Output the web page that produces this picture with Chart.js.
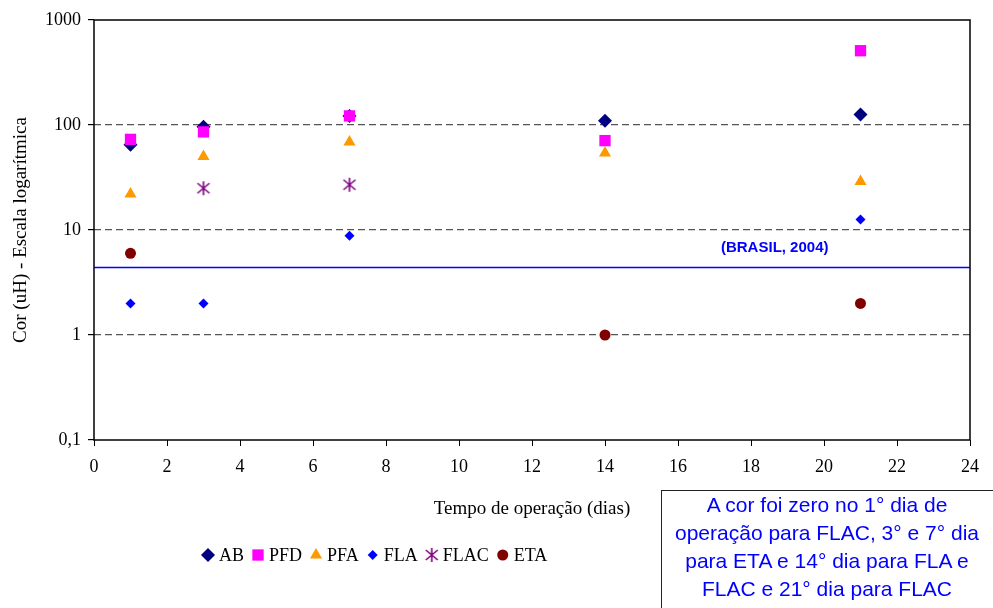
<!DOCTYPE html>
<html>
<head>
<meta charset="utf-8">
<script src="https://cdn.jsdelivr.net/npm/chart.js@4/dist/chart.umd.min.js"></script>
<style>
  html, body { margin: 0; padding: 0; background: #fff; }
  #wrap { position: relative; width: 993px; height: 608px; overflow: hidden; }
  #note {
    position: absolute; left: 661px; top: 490px; width: 340px; height: 130px;
    box-sizing: border-box; border: 1px solid #222; padding: 0 8px 0 0;
    font-family: "Liberation Sans", Arial, sans-serif; font-size: 21px; line-height: 28px;
    color: #0000ff; text-align: center; white-space: nowrap;
  }
</style>
</head>
<body>
<div id="wrap">
  <canvas id="chart" width="993" height="608"></canvas>
  <div id="note">A cor foi zero no 1° dia de<br>operação para FLAC, 3° e 7° dia<br>para ETA e 14° dia para FLA e<br>FLAC e 21° dia para FLAC</div>
</div>
<script>
// dias de operação
const days = [1, 3, 7, 14, 21];

// cor (uH) por unidade
const AB   = [65, 96, 122, 110, 126];
const PFD  = [73, 86, 122, 71, 510];
const PFA  = [22, 50, 69, 54, 29];
const FLA  = [2, 2, 8.8, null, 12.6];
const FLAC = [null, 25, 27, null, null];
const ETA  = [6, null, null, 1, 2];

const brasilLimit = 4.4;
const yTicks = [0.1, 1, 10, 100, 1000];
const xRange = [0, 24];

const serif = "'Liberation Serif', 'Times New Roman', serif";

function pts(vals) {
  return days.map((d, i) => ({ x: d, y: vals[i] })).filter(p => p.y !== null);
}

// asterisco do FLAC
function starImage() {
  const c = document.createElement('canvas');
  c.width = 16; c.height = 16;
  const g = c.getContext('2d');
  g.strokeStyle = '#800080';
  g.lineWidth = 1.6;
  g.beginPath();
  g.moveTo(8, 1); g.lineTo(8, 15);
  g.moveTo(2, 3); g.lineTo(14, 13);
  g.moveTo(14, 3); g.lineTo(2, 13);
  g.stroke();
  return c;
}

const series = [
  { label: 'AB',   data: AB,   color: '#000080', style: 'rectRot',  r: 7 },
  { label: 'PFD',  data: PFD,  color: '#ff00ff', style: 'rect',     r: 8 },
  { label: 'PFA',  data: PFA,  color: '#ff9900', style: 'triangle', r: 7 },
  { label: 'FLA',  data: FLA,  color: '#0000ff', style: 'rectRot',  r: 5 },
  { label: 'FLAC', data: FLAC, color: '#800080', style: starImage(), r: 7 },
  { label: 'ETA',  data: ETA,  color: '#800000', style: 'circle',   r: 5.5 }
];

const datasets = series.map((s, i) => ({
  label: s.label,
  data: pts(s.data),
  pointStyle: s.style,
  pointRadius: s.r,
  pointHoverRadius: s.r,
  backgroundColor: s.color,
  borderColor: s.color,
  borderWidth: 0,
  showLine: false,
  order: series.length - i
}));

datasets.push({
  label: 'BRASIL',
  data: [{ x: xRange[0], y: brasilLimit }, { x: xRange[1], y: brasilLimit }],
  type: 'line',
  borderColor: '#0000ff',
  borderWidth: 1.5,
  pointRadius: 0,
  showLine: true,
  order: 10
});

const framePlugin = {
  id: 'frame',
  beforeDatasetsDraw(chart) {
    const { ctx, chartArea: a } = chart;
    ctx.save();
    ctx.strokeStyle = '#000';
    ctx.lineWidth = 1.5;
    ctx.strokeRect(a.left, a.top, a.right - a.left, a.bottom - a.top);
    ctx.restore();
  },
  afterDatasetsDraw(chart) {
    const { ctx, scales } = chart;
    ctx.save();
    ctx.fillStyle = '#0000ff';
    ctx.font = "bold 15px 'Liberation Sans', Arial, sans-serif";
    ctx.textAlign = 'center';
    ctx.textBaseline = 'middle';
    ctx.fillText('(BRASIL, 2004)', scales.x.getPixelForValue(18.65), scales.y.getPixelForValue(brasilLimit) - 20);
    ctx.restore();
  },
  afterDraw(chart) {
    // legenda
    const ctx = chart.ctx;
    ctx.save();
    ctx.font = '18px ' + serif;
    ctx.textBaseline = 'middle';
    let x = 208;
    const y = 555;
    series.forEach(s => {
      ctx.fillStyle = s.color;
      ctx.strokeStyle = s.color;
      Chart.helpers.drawPoint(ctx, { pointStyle: s.style, radius: s.r, borderWidth: 0, rotation: 0 }, x, y);
      ctx.fillStyle = '#000';
      ctx.fillText(s.label, x + 11, y + 1);
      x += 11 + ctx.measureText(s.label).width + 14;
    });
    ctx.restore();
  }
};

new Chart(document.getElementById('chart'), {
  type: 'scatter',
  data: { datasets },
  options: {
    responsive: false,
    animation: false,
    layout: { padding: { top: 20, right: 23, bottom: 88, left: 0 } },
    plugins: { legend: { display: false }, tooltip: { enabled: false } },
    scales: {
      x: {
        type: 'linear',
        min: xRange[0], max: xRange[1],
        afterFit: s => { s.height = 80; },
        ticks: { stepSize: 2, color: '#000', font: { family: serif, size: 18 }, padding: 10, maxRotation: 0 },
        grid: { drawOnChartArea: false, tickLength: 6, tickColor: '#000' },
        border: { display: false },
        title: { display: true, text: 'Tempo de operação (dias)', color: '#000',
                 font: { family: serif, size: 19 }, padding: { top: 6, bottom: 0 } }
      },
      y: {
        type: 'logarithmic',
        min: 0.1, max: 1000,
        afterFit: s => { s.width = 94; },
        afterBuildTicks: s => { s.ticks = yTicks.map(v => ({ value: v })); },
        ticks: {
          color: '#000', font: { family: serif, size: 18 }, padding: 7,
          callback: v => String(v).replace('.', ',')
        },
        grid: {
          color: ctx => (ctx.tick && (ctx.tick.value === 0.1 || ctx.tick.value === 1000)) ? 'rgba(0,0,0,0)' : '#555',
          lineWidth: 1.2,
          tickLength: 6, tickColor: '#000'
        },
        border: { display: false, dash: [7, 4] },
        title: { display: true, text: 'Cor (uH) - Escala logarítmica', color: '#000',
                 font: { family: serif, size: 19 }, padding: { top: 10, bottom: 0 } }
      }
    }
  },
  plugins: [framePlugin]
});
</script>
</body>
</html>
